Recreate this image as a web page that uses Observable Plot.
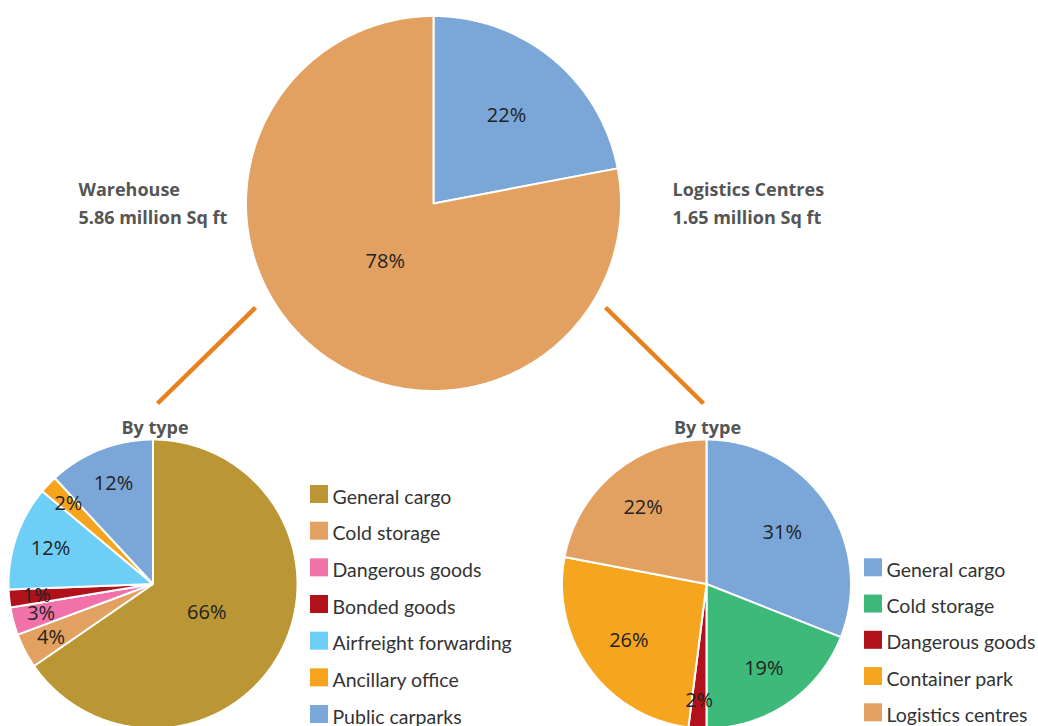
<!DOCTYPE html>
<html><head><meta charset="utf-8">
<script src="https://cdn.jsdelivr.net/npm/d3@7"></script>
<script src="https://cdn.jsdelivr.net/npm/@observablehq/plot@0.6"></script>
<style>body{margin:0;background:#fff;} #chart{width:1038px;height:726px;overflow:hidden;}</style>
</head><body><div id="chart"></div>
<script>
// ---- data ----
const overviewNames = ["Logistics Centres", "Warehouse"];
const overviewValues = [22, 78];
const overviewLabels = ["22%", "78%"];
const overviewColors = ["#7BA6D8", "#E2A160"];
const warehouseTitle = ["Warehouse", "5.86 million Sq ft"];
const logisticsTitle = ["Logistics Centres", "1.65 million Sq ft"];
const subTitle = "By type";

const warehouseTypes = ["General cargo", "Cold storage", "Dangerous goods", "Bonded goods", "Airfreight forwarding", "Ancillary office", "Public carparks"];
// slice sizes as drawn in the picture, and the rounded labels it prints
const warehouseValues = [65.4, 3.9, 3.1, 2.0, 11.7, 2.0, 11.9];
const warehouseLabels = ["66%", "4%", "3%", "1%", "12%", "2%", "12%"];
const warehouseColors = ["#BA9634", "#E2A160", "#F072A9", "#B0111B", "#6DCFF6", "#F6A31E", "#7BA6D8"];

const logisticsTypes = ["General cargo", "Cold storage", "Dangerous goods", "Container park", "Logistics centres"];
const logisticsValues = [31, 19, 2, 26, 22];
const logisticsLabels = ["31%", "19%", "2%", "26%", "22%"];
const logisticsColors = ["#7BA6D8", "#3DB97A", "#B0111B", "#F6A51F", "#E2A160"];

// ---- layout ----
const W = 1038, H = 726;
const baseR = 144.5;
const pies = [
  {id: "overview", cx: 433, cy: 203, r: 187.5, values: overviewValues, labels: overviewLabels, colors: overviewColors},
  {id: "warehouse", cx: 152.5, cy: 583.5, r: baseR, values: warehouseValues, labels: warehouseLabels, colors: warehouseColors},
  {id: "logistics", cx: 706, cy: 583.5, r: baseR, values: logisticsValues, labels: logisticsLabels, colors: logisticsColors}
];

const slicePts = [];
const labels = [];
pies.forEach(p => {
  const total = d3.sum(p.values);
  const arcs = d3.pie().sort(null)(p.values);
  arcs.forEach((a, i) => {
    const key = p.id + "-" + i;
    const color = p.colors[i];
    slicePts.push({key, color, x: p.cx, y: p.cy});
    const n = Math.max(2, Math.ceil((a.endAngle - a.startAngle) / (Math.PI / 360)));
    for (let k = 0; k <= n; k++) {
      const t = a.startAngle + (a.endAngle - a.startAngle) * k / n;
      slicePts.push({key, color, x: p.cx + p.r * Math.sin(t), y: p.cy - p.r * Math.cos(t)});
    }
    slicePts.push({key, color, x: p.cx, y: p.cy});
    const frac = p.values[i] / total;
    const f = frac < 0.5 ? 0.82 - 0.6 * frac : 0.42;
    const dist = baseR * f + (p.r - baseR) * 0.35;
    const mid = (a.startAngle + a.endAngle) / 2;
    labels.push({x: p.cx + dist * Math.sin(mid), y: p.cy - dist * Math.cos(mid), text: p.labels[i]});
  });
});

const legendRows = [];
warehouseTypes.forEach((t, i) => legendRows.push({name: t, color: warehouseColors[i], x: 310, y: 494 + i * 36.67}));
logisticsTypes.forEach((t, i) => legendRows.push({name: t, color: logisticsColors[i], x: 864, y: 567.3 + i * 36.25}));

const headings = [
  {text: warehouseTitle[0], x: 78, y: 195},
  {text: warehouseTitle[1], x: 78, y: 223},
  {text: logisticsTitle[0], x: 672, y: 195},
  {text: logisticsTitle[1], x: 672, y: 223}
];
const byType = [
  {text: subTitle, x: pies[1].cx + 2, y: 433},
  {text: subTitle, x: pies[2].cx + 1, y: 433}
];
const connectors = [
  {x1: 255, y1: 307, x2: 157, y2: 403},
  {x1: 605, y1: 307, x2: 703, y2: 403}
];

const chart = Plot.plot({
  width: W, height: H, margin: 0,
  x: {domain: [0, W], range: [0, W], axis: null},
  y: {domain: [0, H], range: [0, H], axis: null},
  color: {type: "identity"},
  style: {background: "#fff", overflow: "visible"},
  marks: [
    Plot.line(slicePts, {x: "x", y: "y", z: "key", fill: "color", stroke: "#fff", strokeWidth: 2, strokeLinejoin: "round"}),
    Plot.text(labels, {x: "x", y: "y", text: "text", fontFamily: "Open Sans", fontSize: 20, fill: "#222", textAnchor: "middle", lineAnchor: "middle"}),
    Plot.link(connectors, {x1: "x1", y1: "y1", x2: "x2", y2: "y2", stroke: "#E8801E", strokeWidth: 4.5}),
    Plot.text(headings, {x: "x", y: "y", text: "text", fontFamily: "Open Sans", fontWeight: "bold", fontSize: 18, fill: "#555", textAnchor: "start", lineAnchor: "bottom"}),
    Plot.text(byType, {x: "x", y: "y", text: "text", fontFamily: "Open Sans", fontWeight: "bold", fontSize: 18, fill: "#555", textAnchor: "middle", lineAnchor: "bottom"}),
    Plot.rect(legendRows, {x1: d => d.x, x2: d => d.x + 18, y1: d => d.y - 9, y2: d => d.y + 9, fill: "color"}),
    Plot.text(legendRows, {x: d => d.x + 22, y: d => d.y + 9, text: "name", fontFamily: "Lato", fontSize: 19.5, fill: "#333", textAnchor: "start", lineAnchor: "bottom"})
  ]
});
document.getElementById("chart").appendChild(chart);
</script>
</body></html>
